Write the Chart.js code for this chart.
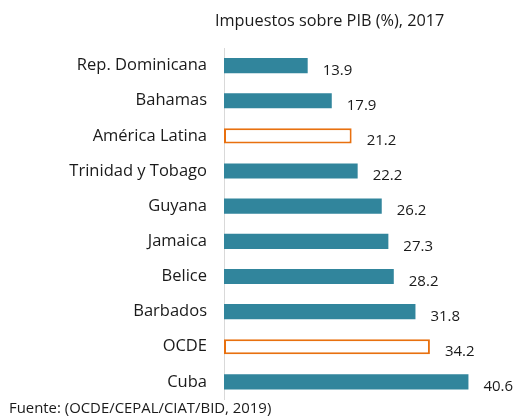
<!DOCTYPE html>
<html>
<head>
<meta charset="utf-8">
<script src="https://cdn.jsdelivr.net/npm/chart.js@4.4.0/dist/chart.umd.min.js"></script>
<style>
  html, body { margin: 0; padding: 0; background: #fff; }
  #wrap { position: relative; width: 517px; height: 420px; font-family: "Open Sans", sans-serif; color: #1a1a1a; }
  #title { position: absolute; top: 9px; left: 215px; font-size: 16.3px; white-space: nowrap; }
  #source { position: absolute; top: 397px; left: 9px; font-size: 14.9px; white-space: nowrap; }
</style>
</head>
<body>
<div id="wrap">
  <canvas id="taxChart" width="517" height="420"></canvas>
  <div id="title">Impuestos sobre PIB (%), 2017</div>
  <div id="source">Fuente: (OCDE/CEPAL/CIAT/BID, 2019)</div>
</div>
<script>
const countries = ['Rep. Dominicana', 'Bahamas', 'América Latina', 'Trinidad y Tobago', 'Guyana', 'Jamaica', 'Belice', 'Barbados', 'OCDE', 'Cuba'];
const taxShare = [13.9, 17.9, 21.2, 22.2, 26.2, 27.3, 28.2, 31.8, 34.2, 40.6];
const averages = ['América Latina', 'OCDE'];

const teal = '#31859C';
const orange = '#E8700F';

const valueLabels = {
  id: 'valueLabels',
  afterDatasetsDraw(chart) {
    const ctx = chart.ctx;
    const meta = chart.getDatasetMeta(0);
    ctx.save();
    ctx.font = '15px "Open Sans", sans-serif';
    ctx.fillStyle = '#1a1a1a';
    ctx.textBaseline = 'middle';
    meta.data.forEach((bar, i) => {
      ctx.fillText(taxShare[i].toFixed(1), bar.x + 15, bar.y + 5);
    });
    ctx.restore();
  }
};

new Chart(document.getElementById('taxChart'), {
  type: 'bar',
  data: {
    labels: countries,
    datasets: [{
      data: taxShare,
      backgroundColor: countries.map(c => averages.includes(c) ? '#ffffff' : teal),
      borderColor: countries.map(c => averages.includes(c) ? orange : teal),
      borderWidth: countries.map(c => averages.includes(c) ? 2 : 0),
      borderSkipped: false,
      barPercentage: 0.86,
      categoryPercentage: 0.5
    }]
  },
  options: {
    indexAxis: 'y',
    responsive: false,
    animation: false,
    layout: { padding: { top: 48, bottom: 20.5, left: 0, right: 4 } },
    plugins: { legend: { display: false }, tooltip: { enabled: false } },
    scales: {
      x: { display: false, min: 0, max: 48 },
      y: {
        // ticks hidden (grid off) but tickLength keeps the gap between labels and axis
        grid: { display: false, drawTicks: true, tickLength: 17 },
        border: { display: true, color: '#d9d9d9', width: 1 },
        ticks: { color: '#1a1a1a', padding: 0, font: { family: '"Open Sans", sans-serif', size: 16.5 } },
        afterFit(scale) { scale.width = 224; }
      }
    }
  },
  plugins: [valueLabels]
});
</script>
</body>
</html>
